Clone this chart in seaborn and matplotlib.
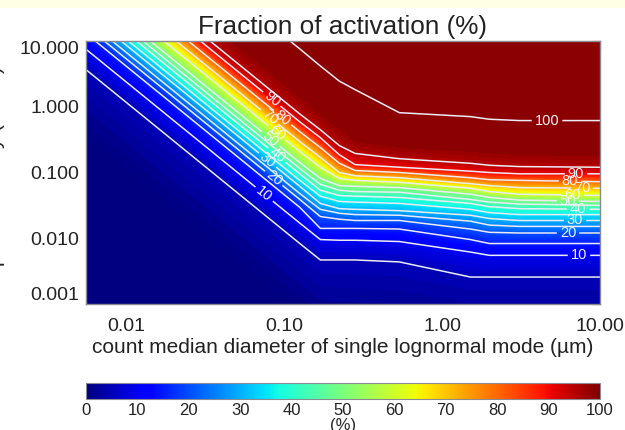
import matplotlib
matplotlib.use('Agg')
import matplotlib.pyplot as plt
import numpy as np
import seaborn as sns
from matplotlib.cm import ScalarMappable
from matplotlib.colors import Normalize
from matplotlib.patches import Rectangle
from matplotlib.scale import InvertedLogTransform
from matplotlib.transforms import blended_transform_factory

# Log10 of diameter (um) at each column
log_diameter = [-2.42, -0.90, -0.77, -0.65, -0.55, -0.27, 0.18, 0.30, 0.49, 1.00]

# log10 of updraft (m/s) where each activation level crosses those columns
log_w_low = [-7.00, -7.00, -7.00, -7.00, -7.00, -7.00, -7.00, -7.00, -7.00, -7.00]
log_w_000 = [-0.12, -3.09, -3.32, -3.39, -3.39, -3.42, -3.55, -3.55, -3.55, -3.55]
log_w_005 = [0.89, -2.08, -2.33, -2.33, -2.33, -2.36, -2.59, -2.59, -2.59, -2.59]
log_w_010 = [1.20, -1.77, -2.02, -2.03, -2.03, -2.05, -2.21, -2.26, -2.26, -2.26]
log_w_015 = [1.44, -1.53, -1.85, -1.85, -1.85, -1.86, -2.02, -2.08, -2.08, -2.08]
log_w_020 = [1.55, -1.41, -1.67, -1.71, -1.73, -1.73, -1.86, -1.91, -1.92, -1.92]
log_w_025 = [1.65, -1.32, -1.56, -1.62, -1.64, -1.65, -1.74, -1.80, -1.82, -1.82]
log_w_030 = [1.76, -1.21, -1.47, -1.55, -1.56, -1.58, -1.65, -1.70, -1.73, -1.73]
log_w_035 = [1.85, -1.12, -1.36, -1.44, -1.45, -1.47, -1.56, -1.61, -1.64, -1.64]
log_w_040 = [1.95, -1.02, -1.27, -1.35, -1.36, -1.38, -1.47, -1.52, -1.55, -1.56]
log_w_045 = [2.03, -0.94, -1.18, -1.27, -1.29, -1.30, -1.41, -1.45, -1.48, -1.50]
log_w_050 = [2.12, -0.85, -1.09, -1.20, -1.21, -1.23, -1.33, -1.38, -1.42, -1.44]
log_w_060 = [2.29, -0.68, -0.92, -1.09, -1.12, -1.15, -1.24, -1.29, -1.33, -1.35]
log_w_070 = [2.44, -0.53, -0.77, -1.00, -1.05, -1.08, -1.17, -1.20, -1.23, -1.24]
log_w_080 = [2.59, -0.38, -0.62, -0.86, -0.97, -1.00, -1.08, -1.11, -1.12, -1.14]
log_w_090 = [2.74, -0.23, -0.47, -0.73, -0.88, -0.92, -0.98, -1.00, -1.02, -1.02]
log_w_095 = [2.86, -0.11, -0.35, -0.59, -0.71, -0.79, -0.86, -0.89, -0.91, -0.92]
log_w_098 = [3.12, 0.15, -0.11, -0.35, -0.53, -0.62, -0.68, -0.70, -0.73, -0.74]
log_w_100 = [3.82, 0.88, 0.62, 0.39, 0.26, -0.09, -0.15, -0.19, -0.21, -0.21]
log_w_top = [7.70, 7.70, 7.70, 7.70, 7.70, 7.70, 7.70, 7.70, 7.70, 7.70]

activation = [-1, 0, 5, 10, 15, 20, 25, 30, 35, 40, 45, 50, 60, 70, 80, 90, 95, 98, 100, 101]
line_levels = [5, 10, 15, 20, 25, 30, 35, 40, 45, 50, 60, 70, 80, 90, 95, 100]

x_ticks = [0.01, 0.1, 1, 10]
x_labels = ['0.01', '0.10', '1.00', '10.00']
y_ticks = [0.001, 0.01, 0.1, 1, 10]
y_labels = ['0.001', '0.010', '0.100', '1.000', '10.000']
bar_ticks = [0, 10, 20, 30, 40, 50, 60, 70, 80, 90, 100]

# Contour label spots per level (diameter, updraft)
label_spots = {
    10: [(0.0736, 0.0447), (7.36, 0.0055)],
    20: [(0.084, 0.0759), (6.27, 0.012)],
    30: [(0.078, 0.151), (6.95, 0.0186)],
    40: [(0.099, 0.24), (7.26, 0.0275)],
    50: [(0.0759, 0.257), (6.27, 0.0363)],
    60: [(0.0851, 0.339), (6.74, 0.0447)],
    70: [(0.0759, 0.573), (7.69, 0.0575)],
    80: [(0.0944, 0.614), (6.46, 0.0731)],
    90: [(0.084, 1.32), (7.05, 0.0966)],
    100: [(4.62, 0.614)],
}

sns.set_style('white')
plt.rcParams['font.family'] = ['Liberation Sans', 'DejaVu Sans']
plt.rcParams['mathtext.default'] = 'regular'
jet = plt.get_cmap('jet').with_extremes(over='#8B0000')

rows = [log_w_low, log_w_000, log_w_005, log_w_010, log_w_015, log_w_020, log_w_025, log_w_030,
        log_w_035, log_w_040, log_w_045, log_w_050, log_w_060, log_w_070, log_w_080,
        log_w_090, log_w_095, log_w_098, log_w_100, log_w_top]
W = np.array(rows)
D = np.tile(np.array(log_diameter), (len(rows), 1))
Z = np.tile(np.array(activation, dtype=float)[:, None], (1, len(log_diameter)))

fig = plt.figure(figsize=(6.25, 4.30), dpi=100)
fig.add_artist(Rectangle((0, 422 / 430), 1, 8 / 430, transform=fig.transFigure,
                         color='#FFFFE3', lw=0))

ax = fig.add_axes([86 / 625, 126 / 430, 514 / 625, 263 / 430])
ax.set_xscale('log')
ax.set_yscale('log')
ax.set_xlim(0.00558, 10)
ax.set_ylim(0.001, 10)

# The mesh is given in log10 units, so it is contoured in log space and then put on the log axes
to_power = InvertedLogTransform(10)
log_data = blended_transform_factory(to_power, to_power) + ax.transData

ax.contourf(D, W, Z, levels=np.arange(0, 98.5, 1), cmap=jet, vmin=0, vmax=100,
            extend='both', transform=log_data)
for level in line_levels:
    cs = ax.contour(D, W, Z, levels=[level], colors='#ECECF4', linewidths=1.1, transform=log_data)
    if level in label_spots:
        ax.clabel(cs, manual=label_spots[level], fmt='%d', fontsize=10.5,
                  colors='#F4F4F8', inline=True, inline_spacing=3)

ax.set_xlim(0.00558, 10)
ax.set_ylim(0.001, 10)
ax.set_xticks(x_ticks, x_labels)
ax.set_yticks(y_ticks, y_labels)
ax.tick_params(which='major', direction='in', length=6, width=0.8, color='black',
               top=True, right=True, labelsize=14, pad=5)
ax.tick_params(which='minor', direction='in', length=3, width=0.7, color='black',
               top=True, right=True, bottom=True, left=True)
ax.tick_params(axis='x', which='major', pad=10)
ax.yaxis.get_ticklabels()[0].set_va('bottom')
ax.yaxis.get_ticklabels()[-1].set_va('top')
for spine in ax.spines.values():
    spine.set_color('#8A8A92')
    spine.set_linewidth(1.0)

ax.set_title('Fraction of activation (%)', fontsize=18.8, color='#222222', pad=5)
ax.set_xlabel('count median diameter of single lognormal mode (\u00b5m)', fontsize=15,
              color='#222222', labelpad=2)
fig.text(8 / 625, 258 / 430, 'updraft velocity (m s$^{-1}$)', rotation=90, ha='right',
         va='center', fontsize=15, color='#222222')

cax = fig.add_axes([86 / 625, 31 / 430, 514 / 625, 16 / 430])
bar = fig.colorbar(ScalarMappable(Normalize(0, 100), jet), cax=cax, orientation='horizontal')
bar.set_ticks(bar_ticks)
bar.ax.tick_params(length=0, labelsize=12, pad=3)
bar.outline.set_edgecolor('#8A8A92')
bar.set_label('(%)', fontsize=12, labelpad=0)

for text in ax.get_xticklabels() + ax.get_yticklabels() + cax.get_xticklabels():
    text.set_color('#222222')

fig.savefig('out.png', dpi=100)
